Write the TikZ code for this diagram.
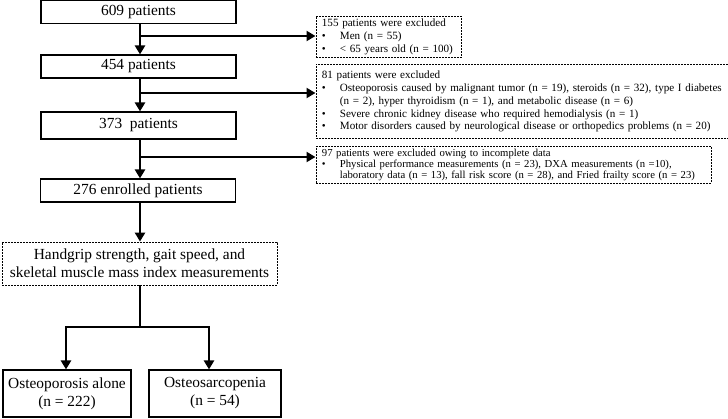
\documentclass[tikz,border=0pt]{standalone}
\usepackage{fontspec}
\setmainfont{Liberation Serif}
\usetikzlibrary{arrows.meta}
\newcommand{\bitem}[1]{\mbox{\makebox[18pt][l]{\textbullet}#1}}
\newcommand{\bcont}[1]{\mbox{\hspace*{18pt}#1}}
\tikzset{
  mainbox/.style={draw, line width=1.1pt, minimum width=195pt, minimum height=23pt, inner sep=0pt,
    font=\fontsize{15.4}{18}\selectfont},
  dbox/.style={draw, dashed, dash pattern=on 2pt off 1pt, line width=0.8pt, inner sep=0pt},
  sidebox/.style={dbox, anchor=north west, inner xsep=6pt, inner ysep=3pt, align=left,
    font=\fontsize{11.1}{12.8}\selectfont},
  arr/.style={line width=2.8pt, -{Triangle[length=9pt,width=10pt]}},
  ln/.style={line width=2.8pt},
}
\begin{document}
\begin{tikzpicture}[x=1pt,y=-1pt]
\useasboundingbox (0,0) rectangle (728,418);
% main column
\node[mainbox, minimum height=23pt] (n609) at (138.5,12.3) {609 patients};
\node[mainbox] (n454) at (138.5,66.5) {454 patients};
\node[mainbox, minimum height=27pt] (n373) at (138.5,125.5) {373\ \ patients};
\node[mainbox] (n276) at (138,190.5) {276 enrolled patients};
\node[dbox, minimum width=275pt, minimum height=43pt, align=center,
  font=\fontsize{15.4}{18}\selectfont] (hand) at (139.5,263.5)
  {Handgrip strength, gait speed, and\\skeletal muscle mass index measurements};
\node[mainbox, minimum width=128pt, minimum height=47pt, align=center] (alone) at (67,393.5)
  {Osteoporosis alone\\(n = 222)};
\node[mainbox, minimum width=132pt, minimum height=47pt, align=center] (sarc) at (215,393.5)
  {Osteosarcopenia\\(n = 54)};
% side boxes
\node[sidebox, text width=133pt] (ex1) at (315.5,15.5)
  {\mbox{155 patients were excluded}\\
   \bitem{Men (n = 55)}\\
   \bitem{< 65 years old (n = 100)}};
\node[sidebox, text width=400pt, inner ysep=6.5pt] (ex2) at (315.5,64)
  {\mbox{81 patients were excluded}\\
   \bitem{Osteoporosis caused by malignant tumor (n = 19), steroids (n = 32), type I diabetes}\\
   \bcont{(n = 2), hyper thyroidism (n = 1), and metabolic disease (n = 6)}\\
   \bitem{Severe chronic kidney disease who required hemodialysis (n = 1)}\\
   \bitem{Motor disorders caused by neurological disease or orthopedics problems (n = 20)}};
\node[sidebox, text width=383pt, inner ysep=2.5pt, font=\fontsize{10.7}{11}\selectfont] (ex3) at (315.5,146)
  {\mbox{97 patients were excluded owing to incomplete data}\\
   \bitem{Physical performance measurements (n = 23), DXA measurements (n =10),}\\
   \bcont{laboratory data (n = 13), fall risk score (n = 28), and Fried frailty score (n = 23)}};
% connectors
\coordinate (b1) at (140,36);
\coordinate (b2) at (140,93);
\coordinate (b3) at (140,157);
\coordinate (sp) at (140,327);
\draw[arr] (n609.south -| b1) -- (n454.north -| b1);
\draw[arr] (n454.south -| b1) -- (n373.north -| b1);
\draw[arr] (n373.south -| b1) -- (n276.north -| b1);
\draw[arr] (n276.south -| b1) -- (hand.north -| b1);
\draw[arr] (b1) -- (ex1.west |- b1);
\draw[arr] (b2) -- (ex2.west |- b2);
\draw[arr] (b3) -- (ex3.west |- b3);
\draw[ln] (hand.south -| sp) -- (sp);
\draw[arr] (sp) -| ([xshift=-1pt]alone.north);
\draw[arr] (sp) -| ([xshift=-6pt]sarc.north);
\end{tikzpicture}
\end{document}
